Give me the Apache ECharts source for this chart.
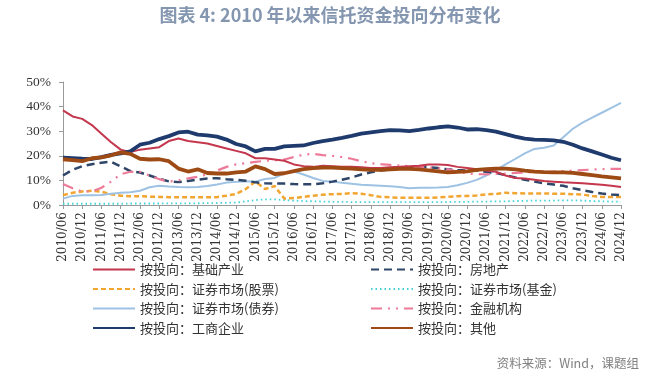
<!DOCTYPE html>
<html>
<head>
<meta charset="utf-8">
<script src="https://cdn.jsdelivr.net/npm/echarts@6/dist/echarts.min.js"></script>
<style>
html,body{margin:0;padding:0;background:#fff;}
#c{width:660px;height:388px;}
</style>
</head>
<body>
<div id="c"></div>
<script>
// Quarterly categories 2010/06 .. 2024/12
const categories = [
"2010/06","2010/09","2010/12","2011/03","2011/06","2011/09","2011/12","2012/03","2012/06","2012/09",
"2012/12","2013/03","2013/06","2013/09","2013/12","2014/03","2014/06","2014/09","2014/12","2015/03",
"2015/06","2015/09","2015/12","2016/03","2016/06","2016/09","2016/12","2017/03","2017/06","2017/09",
"2017/12","2018/03","2018/06","2018/09","2018/12","2019/03","2019/06","2019/09","2019/12","2020/03",
"2020/06","2020/09","2020/12","2021/03","2021/06","2021/09","2021/12","2022/03","2022/06","2022/09",
"2022/12","2023/03","2023/06","2023/09","2023/12","2024/03","2024/06","2024/09","2024/12"];

const yTicks = [0, 10, 20, 30, 40, 50];

const infra = [38.5,36,35,32.5,29,25.5,22.5,21.5,22.5,23,
23.5,26,27,26,25.5,25,24,23,22,21,
19,19,18.5,18,16.5,15.8,15.5,16,15.8,15.5,
15.5,15.3,15,15,15.3,15.5,15.8,16,16.5,16.5,
16.3,15.5,15,14.5,14,13.5,12,11,10.8,10.3,
9.8,9.5,9.2,9,8.8,8.5,8.2,7.8,7.3];

const realEstate = [12,14.3,15.8,16.6,17.2,17.6,15.7,13.8,13.2,12,
10.7,9.6,9.3,9.8,10.3,10.8,10.9,10.5,10.2,9.9,
9.2,8.8,8.7,8.7,8.5,8.4,8.4,8.8,9.5,10.3,
11.2,12.4,13.3,14,14.5,15,15.3,15.5,15.4,15,
14.5,14.2,14,14,13.5,13,12.2,11.2,10.3,9.5,
8.8,8.3,7.8,6.8,6,5.3,4.7,4.3,4];

const stocks = [4,5,5.5,5.8,5.4,4.4,3.8,3.6,3.6,3.4,
3.3,3.2,3.2,3.2,3.1,3.1,3.2,3.8,4.5,6.5,
9.5,6.5,7.7,2.6,2.8,3.3,3.8,4.2,4.4,4.5,
4.8,4.6,4,3.3,3.1,2.9,2.9,2.9,2.9,3.1,
3.3,3.6,3.7,3.9,4.3,4.5,5,4.8,4.7,4.7,
4.7,4.6,4.6,4.4,4.2,3.7,3.3,3.3,3.3];

const funds = [0.5,0.5,0.5,0.5,0.5,0.5,0.5,0.6,0.6,0.6,
0.6,0.7,0.7,0.7,0.7,0.8,0.8,0.9,1,1.5,
2,2.3,2.3,2,1.8,1.6,1.5,1.4,1.3,1.3,
1.2,1.2,1.2,1.2,1.2,1.2,1.2,1.2,1.2,1.2,
1.2,1.3,1.3,1.4,1.4,1.5,1.5,1.6,1.7,1.8,
1.8,1.8,1.9,1.9,1.8,1.6,1.5,1.4,1.3];

const bonds = [2.6,3.7,4,4,4.1,4.6,5,5.2,5.8,7.2,
7.8,7.5,7.3,7.2,7.3,7.7,8.3,9.1,9.4,9.7,
9.5,10.6,11,12.9,13.6,12.4,11,9.8,9.5,9,
8.6,8.2,8,7.8,7.6,7.3,6.8,7,7,7.1,
7.3,8,9,10.2,12,14.2,16.5,18.7,21,22.8,
23.3,24.2,27.5,31,33.5,35.5,37.5,39.5,41.5];

const financial = [8.5,6.8,5.5,5.5,7,9.5,12.5,13.5,13.5,12,
10.5,9.5,10,10.8,11.5,12.5,14,15.5,16.5,17,
17.5,18,18.2,18.5,19.5,20.5,20.8,20.3,20,19.5,
18.8,17.8,17,16.6,16.3,16,15.8,15.5,15.3,15,
14.5,13.5,12.8,12.5,12.5,12.6,12.8,13,13.2,13.4,
13.5,13.6,13.8,14,14.2,14.4,14.6,14.7,14.7];

const industry = [19.2,19,18.8,18.7,19.5,20.4,21,21.8,24.5,25.3,
26.8,28,29.5,29.8,28.6,28.3,27.8,26.6,24.8,23.8,
21.8,22.8,22.8,23.8,24,24.2,25.2,26,26.6,27.3,
28.1,29,29.5,30,30.4,30.3,30,30.5,31.1,31.6,
32,31.5,30.7,30.8,30.4,29.8,28.8,27.8,27,26.6,
26.5,26.3,25.7,24.5,23,21.8,20.5,19.2,18.2];

const others = [18.6,18.2,17.8,19,19.4,20.2,21.4,20.8,18.8,18.5,
18.6,17.8,14.8,13.6,14.5,13,12.8,12.8,13.3,13.6,
15.7,14.6,12.6,12.9,13.8,14.6,15,15.2,15.2,15,
14.8,14.5,14.3,14.3,14.5,14.7,14.7,14.5,14.1,13.7,
13.3,13.5,13.7,14.3,14.6,14.8,14.8,14.5,14,13.6,
13.4,13.3,13.3,13.1,12.6,12.1,11.6,11.2,10.8];

const names = {
  infra: "按投向：基础产业",
  realEstate: "按投向：房地产",
  stocks: "按投向：证券市场(股票)",
  funds: "按投向：证券市场(基金)",
  bonds: "按投向：证券市场(债券)",
  financial: "按投向：金融机构",
  industry: "按投向：工商企业",
  others: "按投向：其他"
};

function line(name, data, color, width, type, z) {
  return {
    name, type: "line", data, symbol: "none", showSymbol: false, smooth: false, z: z,
    lineStyle: { color, width, type, cap: "butt" },
    itemStyle: { color }
  };
}

const chart = echarts.init(document.getElementById("c"), null, { renderer: "canvas" });
const legendText = { fontFamily: "'Noto Sans CJK SC', sans-serif", fontSize: 13, color: "#333" };
const legendCommon = {
  orient: "vertical", top: 263, padding: 0, itemWidth: 42, itemHeight: 14, itemGap: 6.5,
  itemStyle: { opacity: 0 },
  textStyle: legendText
};
chart.setOption({
  animation: false,
  backgroundColor: "#fff",
  title: {
    text: "图表 4: 2010 年以来信托资金投向分布变化",
    left: "center", top: 6, padding: 0,
    textStyle: { fontFamily: "'Noto Sans CJK SC', sans-serif", fontSize: 18, fontWeight: "bold", color: "#8496b0" }
  },
  graphic: [{
    type: "text", right: 21, top: 357,
    style: { text: "资料来源：Wind，课题组", fontFamily: "'Noto Sans CJK SC', sans-serif", fontSize: 12.5, fill: "#808080" }
  }],
  legend: [
    Object.assign({ left: 92, data: [names.infra, names.stocks, names.bonds, names.industry] }, legendCommon),
    Object.assign({ left: 370, data: [names.realEstate, names.funds, names.financial, names.others] }, legendCommon)
  ],
  grid: { left: 63, right: 39, top: 82, bottom: 183, containLabel: false },
  xAxis: {
    type: "category", data: categories, boundaryGap: false,
    axisLine: { lineStyle: { color: "#9a9a9a", width: 1 } },
    axisTick: { interval: 1, length: 4, lineStyle: { color: "#9a9a9a" } },
    axisLabel: { interval: 1, rotate: 90, fontFamily: "'DejaVu Serif', serif", fontSize: 12, color: "#333", margin: 7 }
  },
  yAxis: {
    type: "value", min: yTicks[0], max: yTicks[yTicks.length - 1], interval: 10,
    axisLine: { show: true, lineStyle: { color: "#9a9a9a" } },
    axisTick: { show: true, length: 4, lineStyle: { color: "#9a9a9a" } },
    splitLine: { show: false },
    axisLabel: { formatter: v => v + "%", fontFamily: "'Liberation Serif', serif", fontSize: 13.5, color: "#333", margin: 12 }
  },
  series: [
    line(names.infra, infra, "#c4374d", 2, "solid", 5),
    line(names.realEstate, realEstate, "#2f4668", 2.5, [8, 5], 4),
    line(names.stocks, stocks, "#f3a531", 2.5, [5, 3], 3),
    line(names.funds, funds, "#3fd3d8", 1.8, [1.5, 3], 2),
    line(names.bonds, bonds, "#9dc2e3", 2, "solid", 3),
    line(names.financial, financial, "#ee7a99", 2.2, [11, 6, 2, 6, 2, 6], 4),
    line(names.industry, industry, "#1f3b6d", 3.8, "solid", 6),
    line(names.others, others, "#9d4a14", 3.8, "solid", 6)
  ]
});
</script>
</body>
</html>
